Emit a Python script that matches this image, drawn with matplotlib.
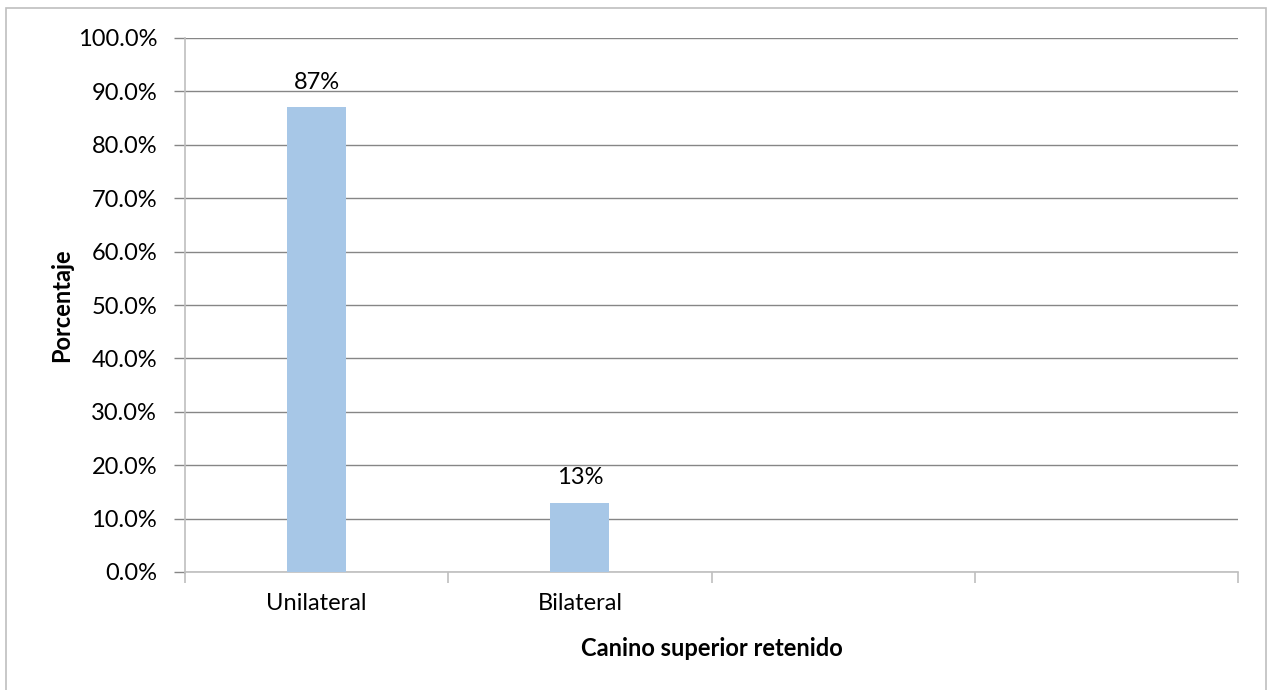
import matplotlib.pyplot as plt
from matplotlib.patches import Rectangle
from matplotlib.ticker import FixedLocator, PercentFormatter

categories = ['Unilateral', 'Bilateral', '', '']
values = [0.87, 0.13]
value_labels = ['87%', '13%']

plt.rcParams['font.family'] = ['Lato', 'DejaVu Sans']
FS = 17

fig = plt.figure(figsize=(12.68, 6.9), dpi=100)
ax = fig.add_axes([185 / 1268, 1 - 572 / 690, (1238 - 185) / 1268, (572 - 38) / 690])

# light frame round the whole chart area
fig.patches.append(Rectangle((6 / 1268, -0.01), (1266 - 6) / 1268, 1 - 8 / 690 + 0.01,
                             transform=fig.transFigure, fill=False,
                             edgecolor='#bfbfbf', linewidth=1.2))

x = list(range(len(values)))
bars = ax.bar(x, values, width=0.224, color='#a7c7e7', zorder=3)
for b, lab in zip(bars, value_labels):
    ax.text(b.get_x() + b.get_width() / 2, b.get_height() + 0.047, lab,
            ha='center', va='center', fontsize=FS, color='black')

ax.set_xlim(-0.5, len(categories) - 0.5)
ax.set_ylim(0, 1)
ax.set_yticks([i / 10 for i in range(11)])
ax.yaxis.set_major_formatter(PercentFormatter(1.0, decimals=1))
ax.grid(axis='y', color='#868686', linewidth=1, zorder=0)

# ticks at category boundaries, labels at centres
ax.xaxis.set_major_locator(FixedLocator([i - 0.5 for i in range(len(categories) + 1)]))
ax.xaxis.set_minor_locator(FixedLocator(list(range(len(categories)))))
ax.set_xticklabels([])
ax.set_xticklabels(categories, minor=True)
ax.tick_params(axis='x', which='major', length=8, color='#bfbfbf', width=1.2)
ax.tick_params(axis='x', which='minor', length=0, labelsize=FS, pad=15)
ax.tick_params(axis='y', length=8, color='#868686', width=1, labelsize=FS, pad=12)

for s in ['top', 'right']:
    ax.spines[s].set_visible(False)
for s in ['left', 'bottom']:
    ax.spines[s].set_color('#bfbfbf')
    ax.spines[s].set_linewidth(1.2)

ax.set_ylabel('Porcentaje', fontsize=FS, fontweight='bold')
ax.yaxis.set_label_coords(-(185 - 62) / (1238 - 185), 0.5)
ax.set_xlabel('Canino superior retenido', fontsize=FS, fontweight='bold')
ax.xaxis.set_label_coords(0.5, -(648 - 572) / (572 - 38))
ax.xaxis.label.set_va('center')
ax.yaxis.label.set_va('center')

fig.savefig('out.png', dpi=100)
